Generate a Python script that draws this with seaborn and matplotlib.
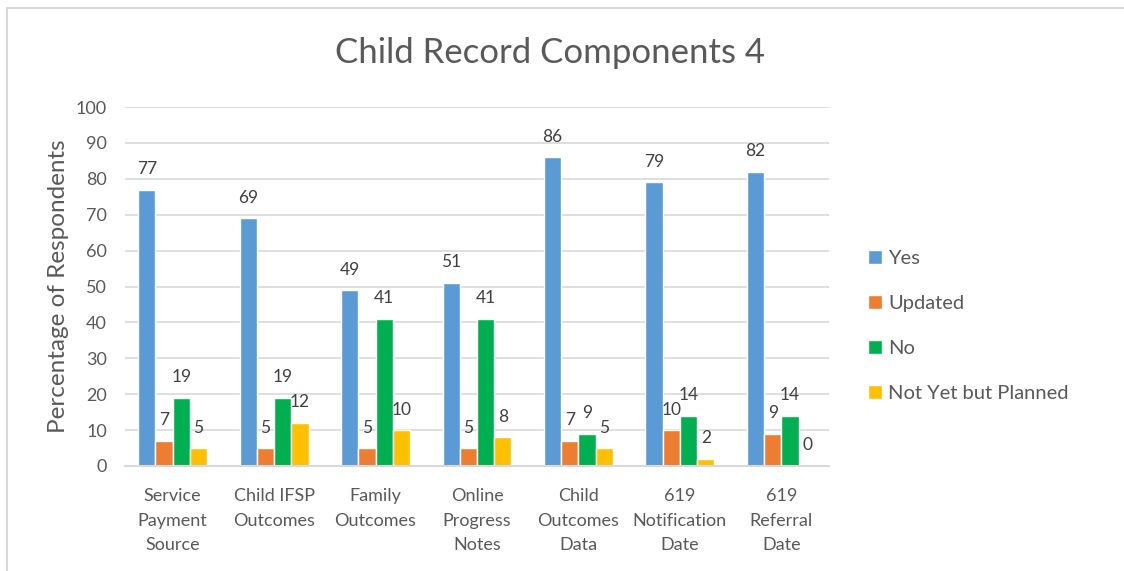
import pandas as pd
import matplotlib
matplotlib.use("Agg")
import matplotlib.pyplot as plt
import seaborn as sns
from matplotlib.lines import Line2D

components = ["Service\nPayment\nSource", "Child IFSP\nOutcomes", "Family\nOutcomes",
              "Online\nProgress\nNotes", "Child\nOutcomes\nData", "619\nNotification\nDate",
              "619\nReferral\nDate"]
series = ["Yes", "Updated", "No", "Not Yet but Planned"]
yes = [77, 69, 49, 51, 86, 79, 82]
updated = [7, 5, 5, 5, 7, 10, 9]
no = [19, 19, 41, 41, 9, 14, 14]
planned = [5, 12, 10, 8, 5, 2, 0]
colors = ["#5B9BD5", "#ED7D31", "#00B050", "#FFC000"]

rows = []
for name, vals in zip(series, [yes, updated, no, planned]):
    for comp, v in zip(components, vals):
        rows.append({"component": comp, "answer": name, "pct": v})
df = pd.DataFrame(rows)

sns.set_style("white")
plt.rcParams["font.family"] = ["Lato", "DejaVu Sans"]
txt = "#595959"
grid = "#D9D9D9"

fig = plt.figure(figsize=(11.24, 5.71), dpi=100)
ax = fig.add_axes([125 / 1124, 1 - 466 / 571, (829 - 125) / 1124, (466 - 107) / 571])

sns.barplot(data=df, x="component", y="pct", hue="answer", hue_order=series,
            order=components, palette=colors, width=0.68, gap=0, saturation=1,
            ax=ax, legend=True)

for cont in ax.containers:
    ax.bar_label(cont, padding=9, fontsize=12.5, color="#404040")

ax.set_xlim(-0.47, 6.47)
ax.set_ylim(0, 100)
ax.set_yticks(range(0, 101, 10))
ax.yaxis.grid(True, color=grid, linewidth=1.2)
ax.set_axisbelow(True)
for s in ["top", "right", "left"]:
    ax.spines[s].set_visible(False)
ax.spines["bottom"].set_color(grid)
ax.spines["bottom"].set_linewidth(1.5)
ax.tick_params(axis="both", length=0, labelsize=13, colors=txt)
ax.tick_params(axis="y", pad=13)
ax.tick_params(axis="x", pad=16)
for lbl in ax.get_xticklabels():
    lbl.set_linespacing(1.65)
ax.set_xlabel("")
ax.set_ylabel("Percentage of Respondents", fontsize=17.5, color=txt, labelpad=5)

ax.legend(loc="center left", bbox_to_anchor=(850 / 1124, 1 - 326 / 571),
          bbox_transform=fig.transFigure, frameon=False, fontsize=14.5,
          handlelength=0.7, handleheight=0.7, handletextpad=0.3,
          labelspacing=1.4, labelcolor=txt)

fig.text(550 / 1124, 1 - 53 / 571, "Child Record Components 4", ha="center",
         va="center", fontsize=25, color=txt)

# chart area border
fig.add_artist(Line2D([7 / 1124, 1], [1 - 8 / 571, 1 - 8 / 571], color=grid, linewidth=1.5))
fig.add_artist(Line2D([7 / 1124, 7 / 1124], [0, 1 - 8 / 571], color=grid, linewidth=1.5))

fig.savefig("out.png", dpi=100)
